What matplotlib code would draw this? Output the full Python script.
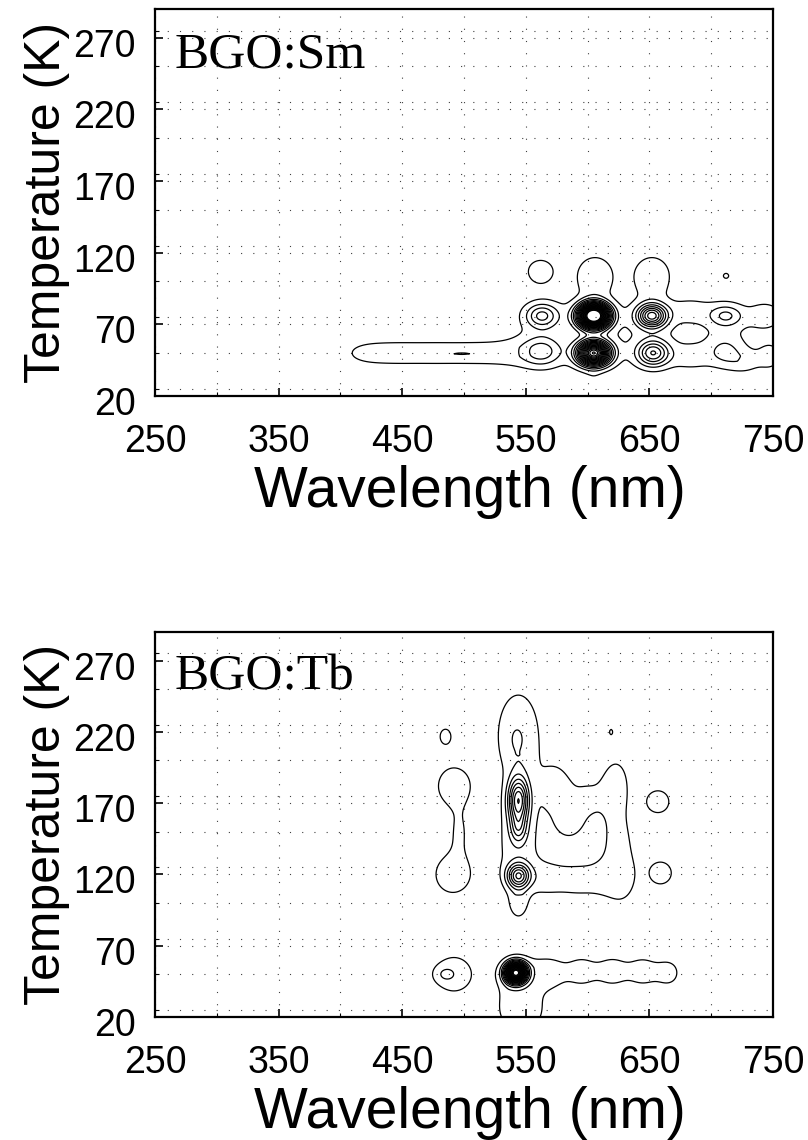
import numpy as np
import matplotlib
matplotlib.use('Agg')
import matplotlib.pyplot as plt
from matplotlib.ticker import MultipleLocator
import matplotlib.transforms as mtransforms

plt.rcParams['font.family'] = 'Liberation Sans'

# Eixos
wl_ticks = [250, 350, 450, 550, 650, 750]
temp_ticks = [20, 70, 120, 170, 220, 270]
contour_levels = list(range(1, 21))
bg_cap = 1.6   # fundo fraco satura abaixo do 2o nivel

# BGO:Sm - picos (nm, K, amplitude, largura nm, largura K)
sm_pk_nm = [605, 605, 652, 653, 563, 563, 712, 711, 498]
sm_pk_temp = [76, 50, 76, 50, 76, 51, 76, 51, 49.5]
sm_pk_amp = [24, 17, 7.5, 5, 3.3, 2.3, 2.2, 1.2, 0.55]
sm_pk_w_nm = [8, 8.5, 8, 8.5, 8.5, 10, 9, 9, 14]
sm_pk_w_temp = [5.5, 5.5, 5.5, 6, 5.5, 6.5, 5, 7, 1.2]
# BGO:Sm - fundo fraco (envelope do 1o nivel)
sm_bg_nm = [605, 605, 652, 653, 563, 563, 712, 711,
            606, 652, 562, 712,
            418, 448, 478, 508, 538,
            683, 683, 745, 748, 728, 605]
sm_bg_temp = [76, 50, 76, 50, 76, 51, 76, 51,
              104, 104, 107, 104,
              50, 50, 50, 50, 50,
              80, 47, 76, 48, 44, 24]
sm_bg_amp = [1.0, 1.0, 1.0, 1.0, 1.0, 1.0, 1.0, 1.0,
             2.2, 2.2, 1.8, 1.05,
             1.0, 1.0, 1.0, 1.0, 1.0,
             1.0, 1.0, 1.6, 1.4, 1.1, 0.8]
sm_bg_w_nm = [18, 18, 18, 18, 18, 18, 18, 18,
              11, 11, 9, 5,
              18, 18, 18, 18, 18,
              12, 12, 10, 7, 10, 5]
sm_bg_w_temp = [11, 11, 11, 11, 11, 11, 11, 11,
                10, 10, 7, 4,
                8, 8, 8, 8, 8,
                7, 7, 7, 7, 6, 8]

# BGO:Tb - picos
tb_pk_nm = [542, 544, 544, 544, 543, 484]
tb_pk_temp = [51, 172, 152, 119, 215, 50]
tb_pk_amp = [20, 7, 2.5, 6, 0.45, 0.9]
tb_pk_w_nm = [5.4, 5.7, 4.5, 6.2, 8, 6]
tb_pk_w_temp = [4.5, 11, 7, 5.8, 13, 4]
# BGO:Tb - fundo fraco
tb_bg_nm = [544, 546, 544, 544, 544,                        # coluna 545 nm
            570, 595, 620, 645, 666,                        # cauda 50 K
            492, 492, 491, 496, 485, 619,                   # coluna 490 nm
            575, 600, 623, 585, 625,                        # estrutura 580-630 nm
            568, 592, 615, 628,
            657, 659]
tb_bg_temp = [50, 25, 218, 140, 100,
              51, 52, 52, 52, 51,
              50, 182, 120, 150, 217, 220,
              180, 172, 184, 155, 135,
              117, 116, 117, 118,
              171, 121]
tb_bg_amp = [1.8, 2.0, 1.8, 1.5, 1.3,
             1.4, 1.4, 1.4, 1.4, 1.3,
             1.6, 1.6, 1.6, 1.0, 1.25, 1.05,
             1.3, 1.0, 1.3, 1.2, 1.5,
             1.3, 1.3, 1.3, 1.1,
             1.8, 1.8]
tb_bg_w_nm = [13, 14, 14, 14, 6,
              10, 10, 10, 10, 8,
              14, 13, 14, 7, 6, 2,
              11, 10, 10, 8, 10,
              12, 12, 12, 6,
              8, 8]
tb_bg_w_temp = [10, 12, 25, 25, 9,
                9, 9, 9, 9, 8,
                12, 13, 13, 12, 7, 3,
                17, 15, 17, 8, 22,
                9, 9, 9, 9,
                7, 7]


def gauss_sum(X, Y, nm, temp, amp, w_nm, w_temp):
    Z = np.zeros_like(X)
    for cx, cy, a, sx, sy in zip(nm, temp, amp, w_nm, w_temp):
        Z += a * np.exp(-((X - cx) ** 2) / (2 * sx ** 2) - ((Y - cy) ** 2) / (2 * sy ** 2))
    return Z


def surface(peaks, background):
    x = np.linspace(250, 750, 501)
    y = np.linspace(20, 290, 541)
    X, Y = np.meshgrid(x, y)
    Z = gauss_sum(X, Y, *peaks) + np.minimum(gauss_sum(X, Y, *background), bg_cap)
    return X, Y, Z


sm_surf = surface((sm_pk_nm, sm_pk_temp, sm_pk_amp, sm_pk_w_nm, sm_pk_w_temp),
                  (sm_bg_nm, sm_bg_temp, sm_bg_amp, sm_bg_w_nm, sm_bg_w_temp))
tb_surf = surface((tb_pk_nm, tb_pk_temp, tb_pk_amp, tb_pk_w_nm, tb_pk_w_temp),
                  (tb_bg_nm, tb_bg_temp, tb_bg_amp, tb_bg_w_nm, tb_bg_w_temp))

fig = plt.figure(figsize=(8.08, 11.4), dpi=100)
ax_top = fig.add_axes([0.1918, 0.6526, 0.7649, 0.3395])
ax_bot = fig.add_axes([0.1918, 0.1079, 0.7649, 0.3377])

for ax, name, (X, Y, Z) in [(ax_top, 'BGO:Sm', sm_surf), (ax_bot, 'BGO:Tb', tb_surf)]:
    ax.contour(X, Y, Z, levels=contour_levels, colors='k', linewidths=0.9)
    ax.set_xlim(250, 750)
    ax.set_ylim(20, 290)
    ax.set_xticks(wl_ticks)
    ax.set_yticks(temp_ticks)
    ax.xaxis.set_minor_locator(MultipleLocator(50))
    ax.yaxis.set_minor_locator(MultipleLocator(25))
    ax.grid(True, which='both', color='0.25', linestyle=(0, (1, 10)), linewidth=0.8)
    ax.tick_params(which='both', direction='in', labelsize=27)
    ax.tick_params(which='major', length=6, width=1.2)
    ax.tick_params(which='minor', length=3, width=0.8)
    ax.tick_params(axis='x', pad=20)
    ax.tick_params(axis='y', pad=14)
    # rotulos do eixo y levemente abaixo do tick
    offset = mtransforms.ScaledTranslation(0, -5 / 100, fig.dpi_scale_trans)
    for lab in ax.get_yticklabels():
        lab.set_transform(lab.get_transform() + offset)
    for sp in ax.spines.values():
        sp.set_linewidth(1.6)
    ax.set_xlabel('Wavelength (nm)', fontsize=41)
    ax.xaxis.set_label_coords(0.51, -0.178)
    ax.set_ylabel('Temperature (K)', fontsize=36, labelpad=2)
    ax.text(0.032, 0.85, name, transform=ax.transAxes, fontsize=37,
            family='Liberation Serif', va='baseline', ha='left')

plt.savefig('out.png', dpi=100, facecolor='white')
